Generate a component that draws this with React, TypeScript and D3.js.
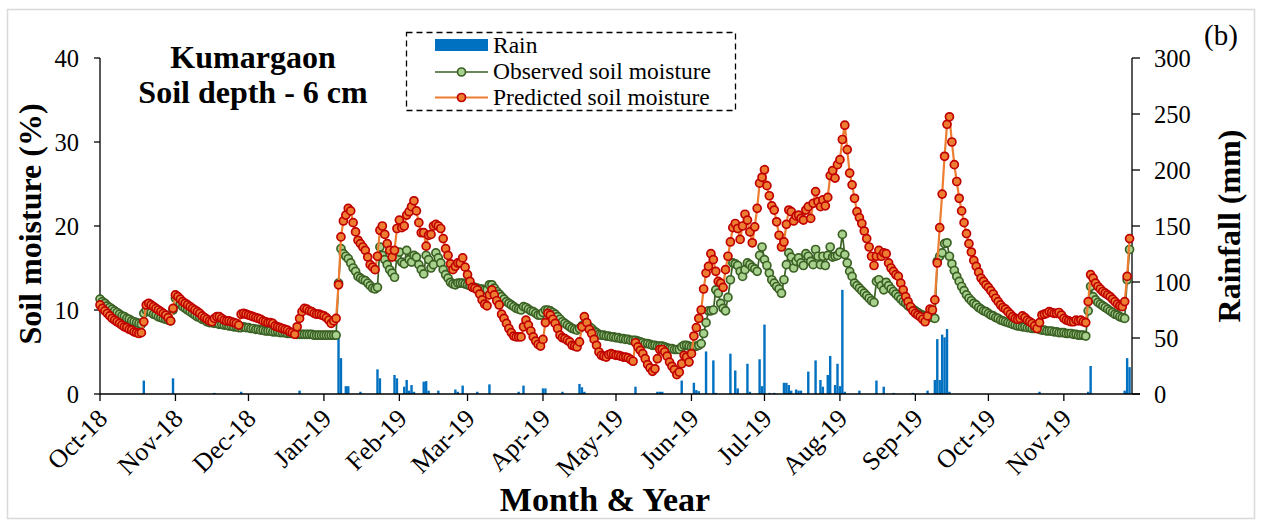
import React from "react";
import * as d3 from "d3";

// Daily series start on 1 Oct 2018; index i is the i-th day after that.
const START = Date.UTC(2018, 9, 1);
const END = Date.UTC(2019, 10, 29);
const DAY = 86400000;

// Observed soil moisture (%), one value per day, month by month
const obsOct18 = [11.3, 11.0, 10.8, 10.5, 10.3, 10.1, 9.9, 9.7, 9.5, 9.3, 9.2, 9.0, 8.9, 8.7, 8.6, 8.5, 8.4, 8.3, 9.6, 10.0, 9.9, 9.7, 9.5, 9.4, 9.2, 9.1, 9.0, 8.9, 8.8, 8.7, 10.0];
const obsNov18 = [11.4, 11.0, 10.7, 10.4, 10.2, 10.0, 9.8, 9.6, 9.4, 9.2, 9.1, 8.9, 8.8, 8.6, 8.5, 8.5, 8.4, 8.4, 8.3, 8.3, 8.2, 8.2, 8.1, 8.1, 8.0, 8.0, 7.9, 7.9, 8.0, 7.9];
const obsDec18 = [7.9, 7.8, 7.8, 7.7, 7.7, 7.6, 7.6, 7.5, 7.5, 7.5, 7.4, 7.4, 7.4, 7.3, 7.3, 7.3, 7.2, 7.2, 7.2, 7.2, 7.1, 7.1, 7.1, 7.1, 7.1, 7.1, 7.1, 7.0, 7.0, 7.0, 7.0];
const obsJan19 = [7.0, 7.0, 7.0, 7.0, 7.0, 7.0, 13.2, 17.3, 16.7, 16.4, 16.1, 15.6, 15.0, 14.6, 14.0, 13.8, 13.6, 13.5, 13.2, 12.9, 12.6, 12.5, 12.7, 17.5, 16.5, 16.0, 15.4, 14.8, 14.4, 13.9, 16.3];
const obsFeb19 = [16.9, 15.7, 15.5, 17.1, 16.0, 15.7, 16.5, 16.3, 15.4, 14.8, 14.3, 16.5, 16.0, 15.0, 15.4, 16.8, 16.2, 15.6, 14.8, 14.2, 13.8, 13.3, 13.1, 13.0, 13.2, 13.2, 13.2, 13.1];
const obsMar19 = [13.0, 12.9, 12.8, 12.7, 12.6, 12.5, 12.5, 12.4, 12.4, 13.0, 13.0, 12.6, 12.2, 11.9, 11.6, 11.3, 11.0, 10.8, 10.6, 10.4, 10.2, 10.1, 10.0, 10.4, 10.3, 10.1, 9.9, 9.8, 9.6, 9.4, 9.4];
const obsApr19 = [9.7, 10.0, 10.0, 9.9, 9.7, 9.5, 9.2, 8.9, 8.6, 8.4, 8.2, 8.0, 7.8, 7.7, 7.6, 7.8, 8.1, 8.3, 8.2, 8.0, 7.8, 7.5, 7.3, 7.1, 7.0, 7.0, 6.9, 6.9, 6.8, 6.8];
const obsMay19 = [6.7, 6.7, 6.6, 6.6, 6.5, 6.5, 6.4, 6.4, 6.4, 6.3, 6.2, 6.1, 6.0, 6.0, 5.9, 5.8, 5.8, 5.7, 5.7, 5.7, 5.6, 5.5, 5.4, 5.4, 5.3, 5.3, 5.3, 5.6, 5.8, 5.8, 5.7];
const obsJun19 = [5.6, 5.6, 5.7, 5.8, 6.0, 7.2, 8.5, 9.9, 9.9, 10.0, 12.4, 12.0, 10.8, 10.2, 9.9, 11.5, 13.6, 15.6, 15.5, 15.3, 14.6, 14.0, 14.8, 15.6, 15.4, 15.1, 14.9, 14.6, 16.5, 17.5];
const obsJul19 = [16.0, 15.3, 14.4, 13.6, 13.2, 12.8, 12.5, 12.0, 13.6, 15.4, 16.8, 16.3, 15.0, 15.8, 16.2, 15.6, 15.3, 16.7, 16.4, 15.8, 15.4, 17.2, 16.4, 15.4, 16.4, 15.3, 16.5, 17.5, 16.3, 16.4, 16.5];
const obsAug19 = [16.9, 19.0, 16.6, 15.6, 14.6, 14.0, 13.2, 12.9, 12.6, 12.3, 12.0, 11.7, 11.4, 11.1, 10.9, 13.4, 13.6, 12.9, 12.4, 13.3, 12.9, 12.5, 12.2, 11.9, 11.6, 11.3, 11.0, 10.8, 10.5, 10.3, 10.1];
const obsSep19 = [9.9, 9.7, 9.5, 9.4, 9.2, 9.3, 9.2, 9.1, 9.0, 15.8, 16.4, 16.8, 17.9, 18.0, 16.4, 15.5, 14.7, 14.0, 13.4, 12.8, 12.3, 11.8, 11.4, 11.1, 10.8, 10.6, 10.3, 10.1, 9.9, 9.8];
const obsOct19 = [9.6, 9.4, 9.3, 9.1, 9.0, 8.8, 8.7, 8.6, 8.5, 8.4, 8.3, 8.2, 8.1, 8.1, 8.0, 8.0, 7.9, 7.9, 7.8, 7.8, 7.8, 7.7, 7.6, 7.6, 7.5, 7.5, 7.5, 7.4, 7.4, 7.3, 7.3];
const obsNov19 = [7.3, 7.2, 7.2, 7.2, 7.1, 7.1, 7.0, 7.0, 7.0, 6.9, 9.9, 12.8, 11.6, 11.2, 10.9, 10.7, 10.5, 10.3, 10.1, 9.9, 9.7, 9.5, 9.4, 9.2, 9.1, 9.0, 13.6, 17.2];

// Predicted soil moisture (%), one value per day, month by month
const predOct18 = [10.6, 10.2, 9.9, 9.6, 9.3, 9.0, 8.8, 8.6, 8.4, 8.2, 8.0, 7.9, 7.7, 7.6, 7.4, 7.3, 7.2, 7.3, 8.6, 10.6, 10.8, 10.6, 10.4, 10.2, 10.0, 9.8, 9.6, 9.4, 9.1, 8.7, 10.2];
const predNov18 = [11.8, 11.6, 11.3, 11.0, 10.8, 10.6, 10.4, 10.2, 10.0, 9.8, 9.6, 9.3, 9.1, 8.9, 8.7, 8.6, 9.0, 9.2, 9.2, 9.0, 8.8, 8.7, 8.7, 8.6, 8.5, 8.4, 8.2, 9.5, 9.6, 9.5];
const predDec18 = [9.4, 9.3, 9.2, 9.1, 9.0, 8.9, 8.7, 8.6, 8.5, 8.5, 8.4, 8.1, 8.0, 7.9, 7.8, 7.7, 7.6, 7.4, 7.3, 7.1, 8.0, 9.0, 9.8, 10.2, 10.1, 9.9, 9.8, 9.6, 9.5, 9.5, 9.4];
const predJan19 = [9.3, 9.1, 8.8, 8.4, 8.7, 9.0, 13.0, 18.7, 20.6, 21.3, 22.1, 21.8, 20.4, 19.3, 18.3, 17.9, 17.5, 17.1, 16.3, 15.4, 15.1, 14.8, 16.4, 19.5, 20.0, 19.0, 17.9, 17.1, 16.3, 17.1, 19.7];
const predFeb19 = [20.7, 19.8, 20.0, 21.3, 21.7, 22.3, 23.0, 21.8, 20.4, 19.2, 19.2, 17.6, 18.9, 19.0, 20.0, 20.2, 20.0, 19.7, 18.5, 17.3, 16.5, 15.5, 14.8, 15.2, 15.6, 15.6, 16.2, 15.1];
const predMar19 = [14.2, 13.4, 12.7, 12.6, 12.4, 11.9, 11.2, 10.7, 10.5, 11.8, 12.4, 11.8, 11.1, 10.6, 9.5, 9.0, 8.4, 7.8, 7.3, 6.9, 6.8, 6.8, 6.8, 8.0, 8.8, 8.2, 7.5, 6.8, 6.3, 5.9, 5.7];
const predApr19 = [6.5, 8.5, 9.6, 9.4, 8.9, 8.4, 7.8, 7.0, 6.7, 6.6, 6.4, 6.2, 5.8, 5.7, 5.6, 6.2, 8.0, 9.2, 8.5, 7.7, 7.2, 6.5, 5.8, 5.0, 4.6, 4.5, 4.4, 4.7, 4.8, 4.7];
const predMay19 = [4.6, 4.6, 4.5, 4.4, 4.4, 4.3, 4.1, 3.9, 6.1, 5.6, 5.2, 4.8, 4.2, 3.5, 3.1, 2.7, 3.0, 4.2, 5.3, 5.3, 5.0, 4.5, 3.8, 3.3, 2.9, 2.3, 2.6, 3.6, 4.6, 4.4, 3.8];
const predJun19 = [4.8, 6.9, 7.9, 9.0, 10.0, 12.5, 14.4, 15.2, 16.7, 16.0, 14.6, 13.4, 13.2, 12.7, 14.8, 16.4, 18.1, 19.8, 20.3, 19.7, 18.4, 20.0, 21.4, 20.7, 19.3, 18.0, 19.9, 22.1, 25.1, 25.8];
const predJul19 = [26.7, 24.8, 23.6, 22.4, 21.9, 20.5, 18.9, 17.5, 18.1, 20.2, 21.9, 21.7, 20.6, 21.2, 21.3, 20.9, 20.7, 21.9, 22.3, 20.9, 22.7, 24.1, 22.9, 22.3, 23.1, 22.4, 23.4, 26.0, 26.6, 25.7, 27.3];
const predAug19 = [27.9, 30.3, 32.0, 29.1, 26.3, 24.9, 23.3, 21.7, 21.0, 20.3, 19.4, 18.5, 17.5, 16.4, 15.3, 16.4, 17.1, 16.4, 16.8, 16.7, 15.6, 15.0, 14.6, 14.2, 14.0, 13.2, 12.4, 11.6, 11.0, 10.4, 9.9];
const predSep19 = [9.6, 9.4, 9.2, 8.9, 8.6, 9.3, 10.1, 10.0, 11.2, 15.6, 19.8, 23.8, 28.3, 32.1, 33.0, 30.0, 27.3, 25.3, 23.3, 21.8, 20.4, 19.1, 17.9, 16.9, 15.9, 15.2, 14.5, 13.8, 13.4, 13.0];
const predOct19 = [12.7, 12.3, 11.9, 11.4, 11.0, 10.6, 10.3, 10.1, 9.8, 9.5, 9.2, 9.0, 8.9, 9.0, 9.3, 9.1, 8.8, 8.6, 8.4, 8.1, 7.8, 8.5, 9.4, 9.5, 9.6, 9.8, 9.7, 9.6, 9.6, 9.7, 9.4];
const predNov19 = [9.0, 8.8, 8.7, 8.6, 8.6, 8.8, 8.7, 8.8, 8.6, 8.5, 11.0, 14.2, 13.8, 13.2, 12.8, 12.5, 12.2, 12.0, 11.8, 11.6, 11.3, 11.0, 10.7, 10.5, 10.4, 11.0, 14.0, 18.5];

// Daily rainfall (mm): [day index, amount]; days not listed had no rain
const rainDays = [
  [18, 12], [30, 14], [47, 1], [58, 2], [82, 3],
  [98, 51], [99, 32], [101, 7], [102, 7], [107, 2],
  [114, 22], [115, 14], [121, 17], [122, 14], [125, 6.5], [126, 12.5], [127, 3], [128, 8], [129, 2],
  [133, 11], [134, 11.5], [135, 3], [139, 3], [146, 4], [147, 2], [149, 7.5], [155, 2], [160, 8.6],
  [172, 2], [174, 7.5], [182, 5], [183, 5], [190, 2], [197, 9], [198, 6], [199, 2],
  [220, 6.5], [229, 2], [230, 2], [231, 2], [239, 12], [244, 10], [245, 3.5], [246, 2.5],
  [249, 38], [252, 30], [253, 1], [259, 36], [261, 21], [262, 5], [266, 27], [267, 2],
  [271, 31], [272, 7], [273, 62], [275, 1], [277, 1], [281, 10], [282, 10], [283, 8], [284, 3],
  [286, 4], [287, 3], [288, 3], [291, 20], [294, 30], [296, 12.5], [297, 6.5], [299, 17],
  [300, 34], [302, 8], [303, 27], [304, 7], [305, 93], [306, 2], [312, 3], [319, 12], [322, 6.5],
  [326, 1], [334, 1], [340, 3], [343, 12.5], [344, 49], [345, 12.5], [346, 53], [347, 50.6],
  [348, 58], [349, 2], [386, 2], [406, 2], [407, 25], [421, 3], [422, 32], [423, 24],
];

const monthLabels = ["Oct-18", "Nov-18", "Dec-18", "Jan-19", "Feb-19", "Mar-19", "Apr-19", "May-19", "Jun-19", "Jul-19", "Aug-19", "Sep-19", "Oct-19", "Nov-19"];
const soilTicks = [0, 10, 20, 30, 40];
const rainTicks = [0, 50, 100, 150, 200, 250, 300];

const observed = [obsOct18, obsNov18, obsDec18, obsJan19, obsFeb19, obsMar19, obsApr19, obsMay19, obsJun19, obsJul19, obsAug19, obsSep19, obsOct19, obsNov19].flat();
const predicted = [predOct18, predNov18, predDec18, predJan19, predFeb19, predMar19, predApr19, predMay19, predJun19, predJul19, predAug19, predSep19, predOct19, predNov19].flat();

const SERIF = "'Liberation Serif', 'Times New Roman', Times, serif";
const RAIN_BLUE = "#0070C0";
const OBS_LINE = "#3B6125";
const OBS_FILL = "#A9D18E";
const PRED_LINE = "#ED7D31";
const PRED_STROKE = "#C00000";

const W = 1261;
const H = 521;
const L = 100;
const R = 1132;
const T = 58;
const B = 394;
const MARKER_R = 4;

const dayDate = (i: number) => new Date(START + i * DAY);

export default function App() {
  const x = d3.scaleUtc().domain([new Date(START), new Date(END)]).range([L, R]);
  const ySoil = d3.scaleLinear().domain([0, 40]).range([B, T]);
  const yRain = d3.scaleLinear().domain([0, 300]).range([B, T]);

  const line = d3
    .line<number>()
    .x((_, i) => x(dayDate(i)))
    .y((v) => ySoil(v));

  const months = d3.utcMonth.range(new Date(START), new Date(END));

  return (
    <>
      <style>{`body{margin:0}`}</style>
      <svg width={W} height={H} style={{ display: "block", background: "#fff" }} fontFamily={SERIF}>
        <rect x={7.5} y={9.5} width={1247} height={509} fill="#fff" stroke="#d9d9d9" strokeWidth={1.5} />

        {/* rainfall columns */}
        <g>
          {rainDays.map(([d, mm]) => (
            <rect
              key={d}
              x={x(dayDate(d)) - 1.2}
              y={yRain(mm)}
              width={2.4}
              height={B - yRain(mm)}
              fill={RAIN_BLUE}
            />
          ))}
        </g>

        {/* axes */}
        <g stroke="#000" strokeWidth={1.3} fill="none">
          <line x1={L} y1={T} x2={L} y2={B} />
          <line x1={R} y1={T} x2={R} y2={B} />
          <line x1={L} y1={B} x2={R + 8} y2={B} />
          {soilTicks.map((t) => (
            <line key={t} x1={L - 6} x2={L} y1={ySoil(t)} y2={ySoil(t)} />
          ))}
          {rainTicks.map((t) => (
            <line key={t} x1={R} x2={R + 8} y1={yRain(t)} y2={yRain(t)} />
          ))}
          {months.map((m) => (
            <line key={+m} x1={x(m)} x2={x(m)} y1={B} y2={B + 7} />
          ))}
        </g>

        {/* observed series */}
        <path d={line(observed) ?? ""} fill="none" stroke={OBS_LINE} strokeWidth={1.7} />
        <g fill={OBS_FILL} stroke={OBS_LINE} strokeWidth={1.7}>
          {observed.map((v, i) => (
            <circle key={i} cx={x(dayDate(i))} cy={ySoil(v)} r={MARKER_R} />
          ))}
        </g>

        {/* predicted series */}
        <path d={line(predicted) ?? ""} fill="none" stroke={PRED_LINE} strokeWidth={2.2} />
        <g fill={PRED_LINE} stroke={PRED_STROKE} strokeWidth={1.7}>
          {predicted.map((v, i) => (
            <circle key={i} cx={x(dayDate(i))} cy={ySoil(v)} r={MARKER_R} />
          ))}
        </g>

        {/* tick labels */}
        <g fontSize={24.5} fill="#000">
          {soilTicks.map((t) => (
            <text key={t} x={L - 21} y={ySoil(t)} dy="0.35em" textAnchor="end">
              {t}
            </text>
          ))}
          {rainTicks.map((t) => (
            <text key={t} x={R + 22} y={yRain(t)} dy="0.35em" textAnchor="start">
              {t}
            </text>
          ))}
        </g>
        <g fontSize={26} fill="#000">
          {months.map((m, i) => (
            <text
              key={+m}
              textAnchor="end"
              transform={`translate(${x(m) + 9},${B + 26}) rotate(-45)`}
            >
              {monthLabels[i]}
            </text>
          ))}
        </g>

        {/* axis titles */}
        <g fontWeight="bold" fontSize={32} fill="#000" textAnchor="middle">
          <text x={605} y={511} fontSize={34}>Month &amp; Year</text>
          <text transform="translate(41,224) rotate(-90)">Soil moisture (%)</text>
          <text transform="translate(1240,226) rotate(-90)">Rainfall (mm)</text>
          <text x={253} y={68}>Kumargaon</text>
          <text x={253} y={103}>Soil depth - 6 cm</text>
        </g>
        <text x={1204} y={45} fontSize={29} fill="#000">(b)</text>

        {/* legend */}
        <g>
          <rect x={406.5} y={32.5} width={329} height={78} fill="#fff" stroke="#000" strokeWidth={1.3} strokeDasharray="6,4" />
          <rect x={435} y={39} width={53} height={12} fill={RAIN_BLUE} />
          <line x1={435} x2={488} y1={72} y2={72} stroke={OBS_LINE} strokeWidth={1.7} />
          <circle cx={461.5} cy={72} r={MARKER_R} fill={OBS_FILL} stroke={OBS_LINE} strokeWidth={1.7} />
          <line x1={435} x2={488} y1={97.5} y2={97.5} stroke={PRED_LINE} strokeWidth={2.2} />
          <circle cx={461.5} cy={97.5} r={MARKER_R} fill={PRED_LINE} stroke={PRED_STROKE} strokeWidth={1.7} />
          <g fontSize={23.5} fill="#000">
            <text x={493} y={53}>Rain</text>
            <text x={493} y={79}>Observed soil moisture</text>
            <text x={493} y={105}>Predicted soil moisture</text>
          </g>
        </g>
      </svg>
    </>
  );
}
